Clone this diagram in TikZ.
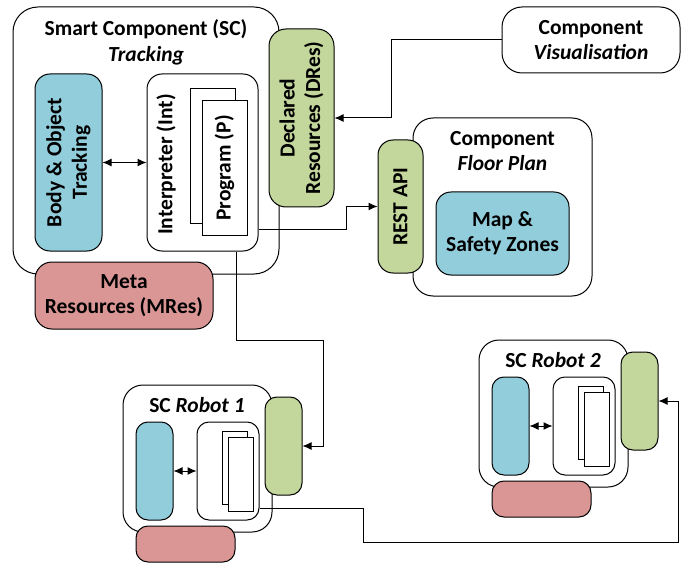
\documentclass[tikz,border=0pt]{standalone}
\usepackage{fontspec}
\setmainfont{Carlito}
\usetikzlibrary{calc,arrows.meta}

\definecolor{boxblue}{RGB}{146,205,220}
\definecolor{boxgreen}{RGB}{195,214,155}
\definecolor{boxred}{RGB}{217,150,148}

\tikzset{
  box/.style={draw, line width=1pt, rounded corners=#1, fill=white, inner sep=0pt, align=center},
  box/.default=20pt,
  page/.style={draw, line width=1pt, fill=white, inner sep=0pt},
  lbl/.style={inner sep=0pt, align=center},
  arr/.style={line width=1pt, -{Latex[length=9pt,width=8pt]}},
  dbl/.style={line width=1pt, {Latex[length=9pt,width=8pt]}-{Latex[length=9pt,width=8pt]}},
}

\begin{document}
\begin{tikzpicture}[x=1pt, y=-1pt, font=\bfseries\fontsize{21.5}{25.5}\selectfont]
		\useasboundingbox (0,0) rectangle (685,564);
		
		%%%%% TRACKING %%%%%
		\node[box=25pt, minimum width=266pt, minimum height=267pt] (sc) at (146,140.5) {};
		\node[lbl] (scTitle) at (146,42.5) {Smart Component (SC)\\\textit{Tracking}};
		
		\node[box=15pt, fill=boxblue, rotate=90, minimum width=177pt, minimum height=67pt] (bot) at (68.5,162.5) {Body \& Object\\Tracking};
		\node[box=15pt, minimum width=111pt, minimum height=177pt] (int) at (202.5,162.5) {};
		\node[lbl, rotate=90] (intText) at (166,164.5) {Interpreter (Int)};
		\node[page, minimum width=45pt, minimum height=134pt] (pBack) at (212.5,156) {};
		\node[page, rotate=90, minimum width=134pt, minimum height=45pt] (pFront) at (224.5,168) {Program (P)};
		
		\node[box=17pt, fill=boxgreen, rotate=90, minimum width=178pt, minimum height=65pt] (dres) at (301.5,118) {Declared\\Resources (DRes)};
		\node[box=17pt, fill=boxred, minimum width=178pt, minimum height=67pt] (mres) at (124,295.5) {Meta\\Resources (MRes)};
		
		%%%%% VISUALISATION / FLOOR PLAN %%%%%
		\node[box=20pt, minimum width=178pt, minimum height=66pt] (vis) at (591,40) {Component\\\textit{Visualisation}};
		
		\node[box=20pt, minimum width=179pt, minimum height=178pt] (fp) at (502.5,207) {};
		\node[lbl] (fpTitle) at (502.5,151) {Component\\\textit{Floor Plan}};
		\node[box=15pt, fill=boxblue, minimum width=133pt, minimum height=83pt] (map) at (502.5,233.5) {Map \&\\Safety Zones};
		\node[box=15pt, fill=boxgreen, rotate=90, minimum width=133pt, minimum height=45pt] (rest) at (400.5,206.5) {REST API};
		
		%%%%% ROBOTS %%%%%
		\foreach \n/\dx/\dy in {1/0/0, 2/356/-45} {
			\begin{scope}[shift={(\dx,\dy)}]
				\node[box=20pt, minimum width=149pt, minimum height=147pt] (r\n) at (197.5,458.5) {};
				\node[lbl] (r\n-title) at (197,405) {SC \textit{Robot \n}};
				\node[box=12pt, fill=boxblue, minimum width=37pt, minimum height=98pt] (r\n-bot) at (154.5,471) {};
				\node[box=12pt, minimum width=62pt, minimum height=98pt] (r\n-int) at (228,471) {};
				\node[page, minimum width=25pt, minimum height=73pt] (r\n-pBack) at (234.5,467.5) {};
				\node[page, minimum width=25pt, minimum height=74pt] (r\n-pFront) at (240.5,474) {};
				\node[box=12pt, fill=boxgreen, minimum width=37pt, minimum height=98pt] (r\n-dres) at (283.5,446) {};
				\node[box=12pt, fill=boxred, minimum width=99pt, minimum height=36pt] (r\n-mres) at (185.5,544) {};
				\draw[dbl] (r\n-bot.east) -- (r\n-int.west);
			\end{scope}
		}
		
		%%%%% CONNECTIONS %%%%%
		% bot and dres are turned, so their south anchor is the right side
		\draw[dbl] (bot.south) -- (int.west);
		\draw[arr] (vis.west) -| ($(dres.south)+(57,0)$) -- (dres.south);
		\draw[arr] ($(int.south east)+(0,-22)$) -- ++(88,0) |- (rest.north);
		\draw[arr] ($(int.south)+(33.5,0)$) -- ++(0,89) -| ($(r1-dres.east)+(21,0)$) -- (r1-dres.east);
		\draw[arr] ($(r1-int.south east)+(0,-12)$) -- ++(104,0) -- ++(0,34) -| ($(r2-dres.east)+(20,0)$) -- (r2-dres.east);
		
		%%%%% END %%%%%
\end{tikzpicture}
\end{document}
